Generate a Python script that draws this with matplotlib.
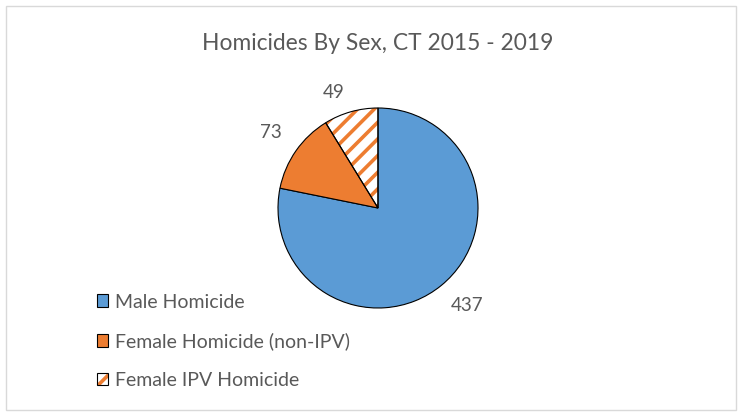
import numpy as np
import matplotlib
matplotlib.use('Agg')
import matplotlib.pyplot as plt
from matplotlib.patches import Patch, Wedge, Rectangle

labels = ['Male Homicide', 'Female Homicide (non-IPV)', 'Female IPV Homicide']
counts = [437, 73, 49]
colors = ['#5B9BD5', '#ED7D31', '#FFFFFF']
title = 'Homicides By Sex, CT 2015 - 2019'

TEXT = '#595959'
plt.rcParams['font.family'] = ['Lato', 'DejaVu Sans']
plt.rcParams['hatch.linewidth'] = 2.6

fig = plt.figure(figsize=(7.42, 4.15), dpi=100)
fig.patches.append(Rectangle((6 / 742, 5 / 415), 730 / 742, 404 / 415,
                             transform=fig.transFigure, fill=False,
                             edgecolor='#D9D9D9', lw=1))

# pie of radius 100px centred at (378, 208) from the top-left
ax = fig.add_axes([278 / 742, 107 / 415, 200 / 742, 200 / 415])
wedges, _ = ax.pie(counts, colors=colors, startangle=90, counterclock=False,
                   radius=1, wedgeprops=dict(edgecolor='black', linewidth=0.8))

# value labels outside each slice (distance, angle nudge in degrees)
label_pos = [(1.32, 3), (1.31, 0), (1.24, 5)]
for w, n, (dist, nudge) in zip(wedges, counts, label_pos):
    ang = np.deg2rad((w.theta1 + w.theta2) / 2 + nudge)
    ax.text(dist * np.cos(ang), dist * np.sin(ang), str(n), ha='center',
            va='center', color=TEXT, fontsize=13.5, clip_on=False)

# orange stripes for the IPV slice, drawn under its black outline
ipv = wedges[2]
stripes = Wedge(ipv.center, ipv.r, ipv.theta1, ipv.theta2, facecolor='white',
                edgecolor=colors[1], hatch='//', linewidth=0, zorder=ipv.get_zorder() - 0.5)
ax.add_patch(stripes)
ipv.set_facecolor('none')

ax.set_xlim(-1, 1)
ax.set_ylim(-1, 1)
ax.set_aspect('equal')
ax.axis('off')

fig.text(378 / 742, 1 - 44 / 415, title, ha='center', va='center',
         color=TEXT, fontsize=16.4)

handles = [Patch(facecolor=colors[0], edgecolor='black', lw=0.8),
           Patch(facecolor=colors[1], edgecolor='black', lw=0.8),
           (Patch(facecolor='white', edgecolor=colors[1], hatch='//', lw=0),
            Patch(facecolor='none', edgecolor='black', lw=0.8))]
fig.legend(handles, labels, loc='upper left', bbox_to_anchor=(79 / 742, 1 - 276 / 415),
           frameon=False, fontsize=14, labelcolor=TEXT, handlelength=0.6,
           handleheight=0.6, handletextpad=0.36, labelspacing=1.12)

fig.savefig('out.png', dpi=100)
